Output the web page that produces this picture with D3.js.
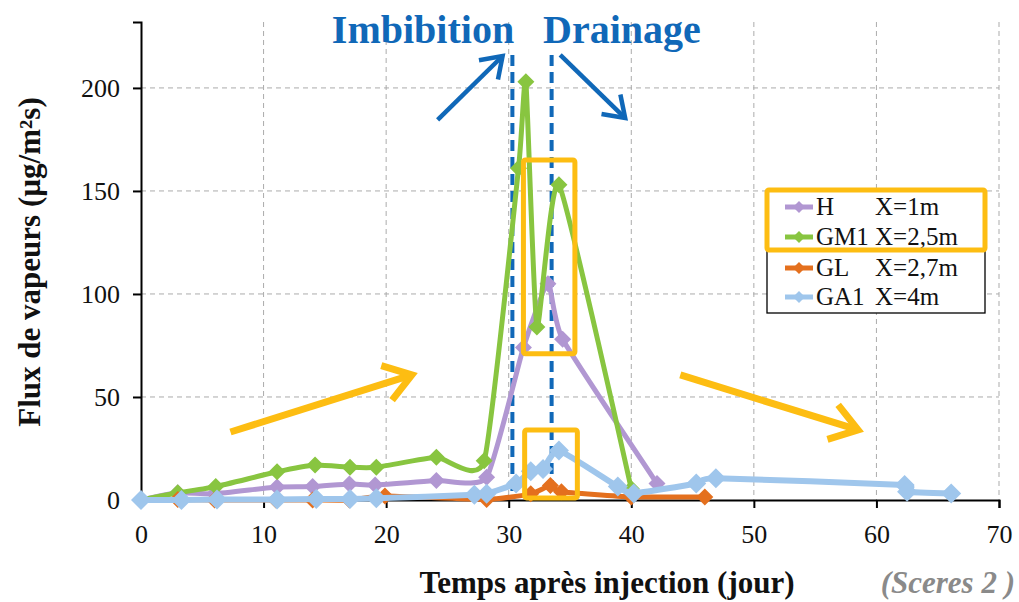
<!DOCTYPE html>
<html>
<head>
<meta charset="utf-8">
<script src="https://cdn.jsdelivr.net/npm/d3@7"></script>
<style>
  body { margin: 0; background: #fff; }
  svg { display: block; font-family: "Liberation Serif", "Times New Roman", serif; }
</style>
</head>
<body>
<svg id="chart" width="1019" height="602"></svg>
<script>
// series: [jour, flux]
const seriesH = [[0,0],[3,3.5],[6,3],[11.1,6.3],[14,6.5],[17,7.8],[19.1,7.3],[24.1,9.5],[28.2,11],[31.2,74],[33.2,105],[34.4,78],[42.1,8]];
const seriesGM1 = [[0,0],[3,3.5],[6.1,6.5],[11.1,13.7],[14.2,17],[17.05,15.9],[19.2,15.9],[24.1,20.7],[28,19],[30.8,161],[31.4,203],[32.3,84],[34.1,153],[40,5.5]];
const seriesGL = [[0,0],[3,0.3],[6,0],[11,0],[14,0],[17,0],[19.9,2],[28.2,0.3],[31.8,3],[33.4,7],[34.3,4],[40,1.5],[46,1.5]];
const seriesGA1 = [[0,0],[3.3,0],[6.2,0.3],[11.1,0.3],[14.3,0.5],[17.05,0.5],[19.2,0.8],[27.2,2.5],[28.2,3],[30.6,8],[31.8,14],[32.8,15],[34.1,24],[38.9,6.5],[40.2,3.2],[45.3,8],[46.9,10.5],[62.3,7.3],[62.5,4],[66.1,3.2]];

const seriesNames = ["H", "GM1", "GL", "GA1"];
const seriesPos = ["X=1m", "X=2,5m", "X=2,7m", "X=4m"];
const seriesColors = ["#b197d2", "#88c540", "#e4701e", "#9fc6ec"];
const allSeries = [seriesH, seriesGM1, seriesGL, seriesGA1];

const xTicks = [0, 10, 20, 30, 40, 50, 60, 70];
const yTicks = [0, 50, 100, 150, 200];
const phaseLines = [30.3, 33.5];   // imbibition / drainage limits (jour)

const svg = d3.select("#chart");

const x = d3.scaleLinear().domain([0, 70]).range([141, 999]);
const y = d3.scaleLinear().domain([0, 232]).range([500, 22]);

// grid
const grid = svg.append("g")
grid.selectAll(".gx")
    .data(xTicks.slice(1))
    .enter()
    .append("line")
    .attr("x1", d => x(d)).attr("x2", d => x(d))
    .attr("y1", y(232)).attr("y2", y(0))
    .attr("stroke", "#ababab")
    .attr("stroke-dasharray", "5,4");
grid.selectAll(".gy")
    .data(yTicks.slice(1))
    .enter()
    .append("line")
    .attr("x1", x(0)).attr("x2", x(70))
    .attr("y1", d => y(d)).attr("y2", d => y(d))
    .attr("stroke", "#ababab")
    .attr("stroke-dasharray", "5,4");

// axes
const xAxis = svg.append("g")
    .attr("transform", `translate(0,${y(0)})`)
    .call(d3.axisBottom(x).tickValues(xTicks).tickSize(8).tickPadding(17));
const yAxis = svg.append("g")
    .attr("transform", `translate(${x(0)},0)`)
    .call(d3.axisLeft(y).tickValues(yTicks).tickSize(8).tickPadding(13));
[xAxis, yAxis].forEach(a => {
    a.select(".domain").attr("stroke", "#000").attr("stroke-width", 2);
    a.selectAll(".tick line").attr("stroke", "#000").attr("stroke-width", 2);
    a.selectAll(".tick text")
        .attr("font-family", "Liberation Serif")
        .attr("font-size", 26)
        .attr("fill", "#111");
});

// dashed phase lines
svg.append("g").selectAll("line")
    .data(phaseLines)
    .enter()
    .append("line")
    .attr("x1", d => x(d)).attr("x2", d => x(d))
    .attr("y1", 55).attr("y2", y(0) - 2)
    .attr("stroke", "#1068b8")
    .attr("stroke-width", 4)
    .attr("stroke-dasharray", "11,6");

// series
const diamond = r => `M0,${-r}L${r},0L0,${r}L${-r},0Z`;
const line = d3.line()
    .x(d => x(d[0]))
    .y(d => y(d[1]))
    .curve(d3.curveCardinal.tension(0.5));

const drawOrder = [0, 1, 2, 3];
drawOrder.forEach(i => {
    const g = svg.append("g");
    g.append("path")
        .datum(allSeries[i])
        .attr("d", line)
        .attr("fill", "none")
        .attr("stroke", seriesColors[i])
        .attr("stroke-width", i === 3 ? 6 : 5)
        .style("stroke-linejoin", "round");
    g.selectAll("path.m")
        .data(allSeries[i])
        .enter()
        .append("path")
        .attr("class", "m")
        .attr("d", diamond(i === 3 ? 10 : 8.5))
        .attr("transform", d => `translate(${x(d[0])},${y(d[1])})`)
        .attr("fill", seriesColors[i]);
});

// legend
const legend = svg.append("g");
legend.append("rect")
    .attr("x", 767).attr("y", 190).attr("width", 218).attr("height", 123)
    .attr("fill", "#fff").attr("stroke", "#000").attr("stroke-width", 1.3);
const rowY = [207, 237, 268, 297];
seriesNames.forEach((name, i) => {
    const r = legend.append("g").attr("transform", `translate(0,${rowY[i]})`);
    r.append("line").attr("x1", 785).attr("x2", 813)
        .attr("stroke", seriesColors[i]).attr("stroke-width", 5);
    r.append("path").attr("d", diamond(6)).attr("transform", "translate(799,0)")
        .attr("fill", seriesColors[i]);
    r.append("text").attr("x", 816).attr("y", 8).attr("font-size", 25).attr("fill", "#111").text(name);
    r.append("text").attr("x", 875).attr("y", 8).attr("font-size", 25).attr("fill", "#111").text(seriesPos[i]);
});
legend.append("rect")
    .attr("x", 767).attr("y", 190).attr("width", 218).attr("height", 60)
    .attr("fill", "none").attr("stroke", "#fdbd12").attr("stroke-width", 5).attr("rx", 2);

// highlight boxes
const boxes = [[31.2, 35.4, 71, 165], [31.3, 35.6, 1, 34]];
svg.append("g").selectAll("rect")
    .data(boxes)
    .enter()
    .append("rect")
    .attr("x", d => x(d[0])).attr("y", d => y(d[3]))
    .attr("width", d => x(d[1]) - x(d[0])).attr("height", d => y(d[2]) - y(d[3]))
    .attr("fill", "none").attr("stroke", "#fdbd12").attr("stroke-width", 5).attr("rx", 2);

// arrows
function arrow(x1, y1, x2, y2, color, w, head) {
    const a = Math.atan2(y2 - y1, x2 - x1);
    const g = svg.append("g").attr("stroke", color).attr("stroke-width", w)
        .attr("fill", "none").style("stroke-linecap", "butt").style("stroke-linejoin", "miter");
    g.append("line").attr("x1", x1).attr("y1", y1).attr("x2", x2).attr("y2", y2);
    const p1 = [x2 - head * Math.cos(a - 0.6), y2 - head * Math.sin(a - 0.6)];
    const p2 = [x2 - head * Math.cos(a + 0.6), y2 - head * Math.sin(a + 0.6)];
    g.append("path").attr("d", `M${p1}L${x2},${y2}L${p2}`);
}
const goldArrows = [[7.3, 33, 22.1, 60.7], [44, 60.7, 58.5, 34]];
goldArrows.forEach(d => arrow(x(d[0]), y(d[1]), x(d[2]), y(d[3]), "#fdbd12", 7, 32));
const blueArrows = [[24.2, 184.5, 29.5, 215.5], [34.2, 216, 39.5, 185.4]];
blueArrows.forEach(d => arrow(x(d[0]), y(d[1]), x(d[2]), y(d[3]), "#1068b8", 4.5, 24));

// titles
svg.append("text").attr("x", 423).attr("y", 43).attr("text-anchor", "middle")
    .attr("font-size", 40).attr("font-weight", "bold").attr("fill", "#1068b8").text("Imbibition");
svg.append("text").attr("x", 622).attr("y", 43).attr("text-anchor", "middle")
    .attr("font-size", 40).attr("font-weight", "bold").attr("fill", "#1068b8").text("Drainage");

svg.append("text")
    .attr("transform", "translate(40,262) rotate(-90)")
    .attr("text-anchor", "middle")
    .attr("font-size", 31).attr("font-weight", "bold").attr("fill", "#111")
    .text("Flux de vapeurs (µg/m²s)");

svg.append("text").attr("x", 607).attr("y", 593).attr("text-anchor", "middle")
    .attr("font-size", 31).attr("font-weight", "bold").attr("fill", "#111")
    .text("Temps après injection (jour)");
svg.append("text").attr("x", 1015).attr("y", 593).attr("text-anchor", "end")
    .attr("font-size", 31).attr("font-weight", "bold").attr("font-style", "italic").attr("fill", "#8a8a8a")
    .text("(Sceres 2 )");
</script>
</body>
</html>
